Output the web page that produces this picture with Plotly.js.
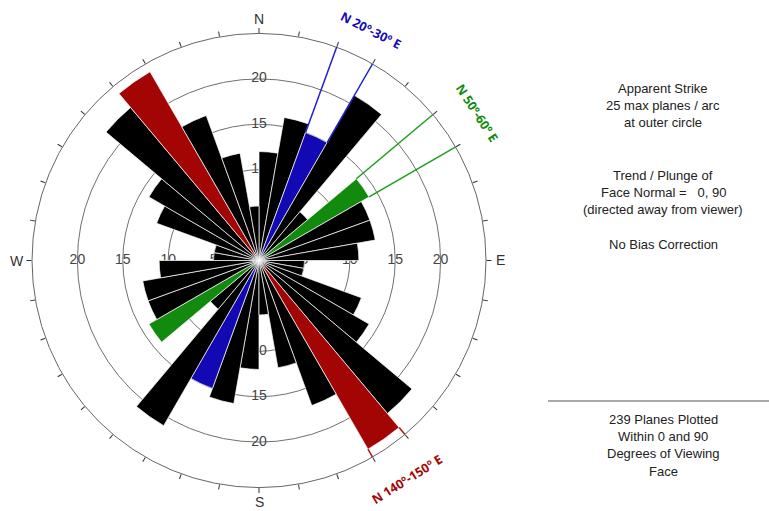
<!DOCTYPE html>
<html><head><meta charset="utf-8">
<script src="https://cdn.plot.ly/plotly-3.0.1.min.js"></script>
<style>html,body{margin:0;padding:0;background:#fff}#chart{width:769px;height:511px}</style>
</head><body><div id="chart"></div>
<script>
// ---- data ----
const binStart = [0,10,20,30,40,50,60,70,80,90,100,110,120,130,140,150,160,170];
const counts   = [12,16,15,21,7,14,13,13,11,5,5,12,14,22,24,17,12,6];
const hiBins = [20,50,140];
const hiLabels = ['N 20º-30º E','N 50º-60º E','N 140º-150º E'];
const ringVals = [5,10,15,20];
const ringText = ['5','10','15','20'];
const cardinalTheta = [0,90,180,270];
const cardinalText = ['N','E','S','W'];
const infoTop = ['Apparent Strike','25 max planes / arc','at outer circle','','','Trend / Plunge of','Face Normal =   0, 90','(directed away from viewer)','','No Bias Correction'];
const infoBottom = ['239 Planes Plotted','Within 0 and 90','Degrees of Viewing','Face'];
const rMax = 25;

// ---- styles ----
const hiFill = ['#1209b4','#128a0d','#a30505'];
const hiLine = ['#2020d0','#1f9c1f','#b51212'];
const hiLabelR = [28.2, 29.0, 29.1];
const cardinalR = 26.6;
const W = 769, H = 511, CX = 259, CY = 260.5, R = 227;
const dom = {x:[(CX-R)/W,(CX+R)/W], y:[(H-CY-R)/H,(H-CY+R)/H]};
const pxPerUnit = R / rMax;
function polarToPaper(rv, bearing){
  const rad = bearing*Math.PI/180;
  const px = CX + rv*pxPerUnit*Math.sin(rad), py = CY - rv*pxPerUnit*Math.cos(rad);
  return {x:px/W, y:(H-py)/H};
}

// bars (each strike bin drawn in both directions)
const theta = [], r = [], colors = [];
binStart.forEach((b,i)=>{
  const k = hiBins.indexOf(b);
  const c = k>=0 ? hiFill[k] : '#000000';
  theta.push(b+5); r.push(counts[i]); colors.push(c);
  theta.push(b+185); r.push(counts[i]); colors.push(c);
});

const traces = [];
// ring labels on the lower subplot (under bars)
const lt = [], lr = [], ltx = [];
cardinalTheta.forEach(t=>{ ringVals.forEach((v,j)=>{ lt.push(t); lr.push(v); ltx.push(ringText[j]); }); });
traces.push({type:'scatterpolar', subplot:'polar', mode:'text', r:lr, theta:lt, text:ltx,
  textfont:{family:'Liberation Sans, Arial', size:14, color:'#444'}, hoverinfo:'skip', showlegend:false});

traces.push({type:'barpolar', subplot:'polar2', r:r, theta:theta, width:theta.map(()=>10),
  marker:{color:colors, line:{color:'#ffffff', width:0.7}}, hoverinfo:'skip', showlegend:false});

const annotations = [];
// compass letters
cardinalTheta.forEach((t,j)=>{
  const p = polarToPaper(cardinalR, t);
  annotations.push({xref:'paper', yref:'paper', x:p.x, y:p.y, xanchor:'center', yanchor:'middle',
    text:cardinalText[j], showarrow:false, font:{family:'Liberation Sans, Arial', size:14, color:'#333'}});
});

// highlight guide lines
hiBins.forEach((b,k)=>{
  const i = binStart.indexOf(b);
  [b, b+10].forEach(e=>{
    traces.push({type:'scatterpolar', subplot:'polar2', mode:'lines', r:[counts[i], 27.5], theta:[e,e],
      line:{color:hiLine[k], width:1.5}, cliponaxis:false, hoverinfo:'skip', showlegend:false});
  });
  const bearing = b + 6;
  const p = polarToPaper(hiLabelR[k], bearing);
  annotations.push({xref:'paper', yref:'paper', x:p.x, y:p.y, xanchor:'center', yanchor:'middle',
    text:'<b>'+hiLabels[k]+'</b>', showarrow:false, textangle: bearing<90 ? bearing+1 : bearing-178,
    font:{family:'Open Sans, Noto Sans', size:12.5, color:hiFill[k]}});
});

// info text
const tx = 663;
const infoFont = {family:'Liberation Sans, Arial', size:13, color:'#222'};
infoTop.forEach((s,i)=>{ if(s) annotations.push({xref:'paper', yref:'paper', x:tx/W, y:(H-(88+i*17.4))/H,
  xanchor:'center', yanchor:'middle', text:s, showarrow:false, font:infoFont}); });
infoBottom.forEach((s,i)=>{ annotations.push({xref:'paper', yref:'paper', x:tx/W, y:(H-(419+i*17.4))/H,
  xanchor:'center', yanchor:'middle', text:s, showarrow:false, font:infoFont}); });

const tickvals = [];
for(let a=0;a<360;a+=10){ tickvals.push(a); }

const layout = {
  width:W, height:H, margin:{l:0,r:0,t:0,b:0}, paper_bgcolor:'#fff', showlegend:false,
  polar:{domain:dom, bgcolor:'#fff',
    radialaxis:{range:[0,rMax], tickvals:ringVals, showticklabels:false, ticks:'', showline:false,
      showgrid:true, gridcolor:'#707070', gridwidth:1, layer:'below traces'},
    angularaxis:{direction:'clockwise', rotation:90, tickmode:'array', tickvals:tickvals, showticklabels:false,
      ticks:'outside', ticklen:5, tickwidth:1, tickcolor:'#333', showgrid:false, showline:true,
      linecolor:'#666', linewidth:1, layer:'below traces'}},
  polar2:{domain:dom, bgcolor:'rgba(0,0,0,0)', bargap:0,
    radialaxis:{range:[0,rMax], visible:false, showgrid:false},
    angularaxis:{direction:'clockwise', rotation:90, visible:false, showgrid:false}},
  shapes:[{type:'line', xref:'paper', yref:'paper', x0:548/W, x1:1, y0:(H-401)/H, y1:(H-401)/H, line:{color:'#555', width:1}}],
  annotations:annotations
};
Plotly.newPlot('chart', traces, layout, {displayModeBar:false, staticPlot:true});
</script></body></html>
